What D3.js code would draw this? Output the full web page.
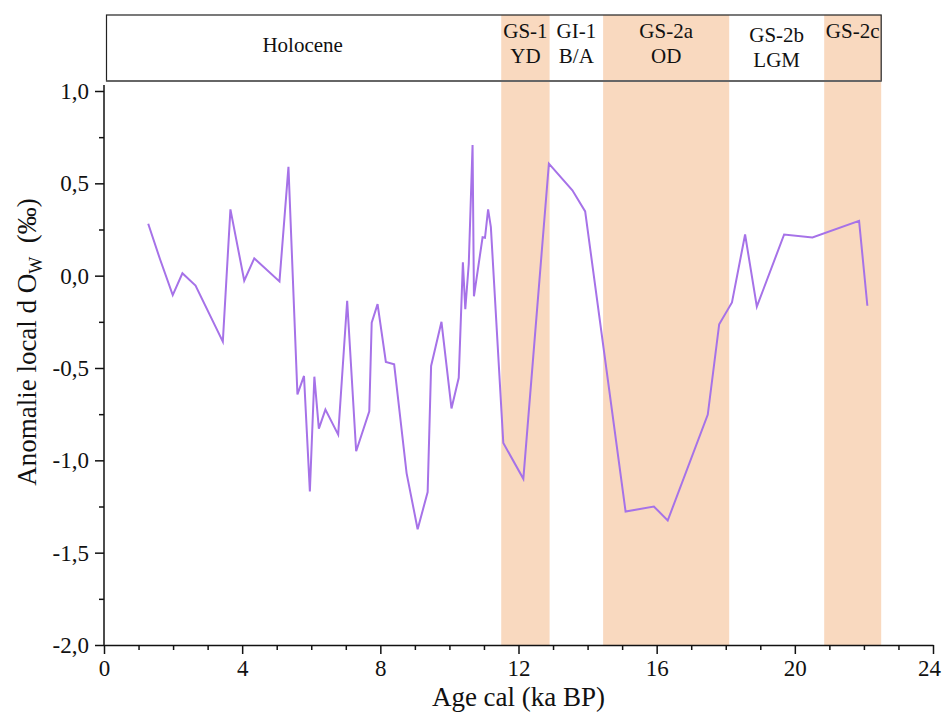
<!DOCTYPE html>
<html>
<head>
<meta charset="utf-8">
<script src="https://cdn.jsdelivr.net/npm/d3@7"></script>
<style>
  html, body { margin: 0; padding: 0; background: #fff; }
  svg { display: block; }
  svg text { font-family: "Liberation Serif", "Times New Roman", Times, serif; }
</style>
</head>
<body>
<svg id="chart" width="943" height="725"></svg>
<script>
// ---- Data ----
const ages = [1.28, 1.62, 1.99, 2.27, 2.65, 3.44, 3.66, 4.06, 4.35, 5.08,
  5.34, 5.60, 5.79, 5.96, 6.09, 6.22, 6.41, 6.78, 7.04, 7.30,
  7.68, 7.75, 7.92, 8.16, 8.40, 8.76, 9.08, 9.37, 9.47, 9.77,
  10.06, 10.27, 10.39, 10.46, 10.56, 10.67, 10.71, 10.96, 11.03, 11.12,
  11.20, 11.56, 12.14, 12.88, 13.56, 13.93, 15.10, 15.92, 16.32, 17.48,
  17.81, 18.18, 18.56, 18.90, 19.69, 20.51, 21.86, 22.10];
const anomalies = [0.281, 0.09, -0.105, 0.013, -0.054, -0.357, 0.359, -0.027, 0.094, -0.031,
  0.589, -0.643, -0.543, -1.168, -0.547, -0.828, -0.725, -0.861, -0.136, -0.951,
  -0.734, -0.254, -0.154, -0.467, -0.48, -1.069, -1.373, -1.172, -0.489, -0.25,
  -0.719, -0.553, 0.072, -0.181, 0.063, 0.707, -0.112, 0.208, 0.205, 0.359,
  0.263, -0.906, -1.10, 0.607, 0.462, 0.348, -1.277, -1.25, -1.326, -0.752,
  -0.263, -0.145, 0.223, -0.168, 0.223, 0.207, 0.297, -0.163];

const periodNames  = ["Holocene", "GS-1", "GI-1", "GS-2a", "GS-2b", "GS-2c"];
const periodSub    = ["", "YD", "B/A", "OD", "LGM", ""];
const periodStart  = [0, 11.5, 12.9, 14.45, 18.1, 20.85];
const periodEnd    = [11.5, 12.9, 14.45, 18.1, 20.85, 22.5];
const periodShaded = [false, true, false, true, false, true];

const xTicks = [0, 4, 8, 12, 16, 20, 24];
const yTicks = [-2.0, -1.5, -1.0, -0.5, 0.0, 0.5, 1.0];

const xTitle = "Age cal (ka BP)";

// ---- Layout ----
const svg = d3.select("#chart");
const mLeft = 104, mRight = 933, mTop = 91, mBottom = 645;
const boxTop = 15, boxBottom = 81;
const FONT = "'Liberation Serif', 'Times New Roman', Times, serif";

const x = d3.scaleLinear().domain([0, 24]).range([mLeft, mRight]);
const y = d3.scaleLinear().domain([-2, 1]).range([mBottom, mTop]);

const fmt = v => d3.format(".1f")(v).replace(".", ",").replace("\u2212", "-");

const periods = periodNames.map((n, i) => ({
  name: n, sub: periodSub[i], start: periodStart[i], end: periodEnd[i], shaded: periodShaded[i]
}));

// shaded bands
svg.append("g").selectAll("rect")
  .data(periods.filter(p => p.shaded))
  .join("rect")
  .attr("x", d => x(d.start))
  .attr("width", d => x(d.end) - x(d.start))
  .attr("y", boxTop)
  .attr("height", mBottom - boxTop)
  .attr("fill", "#f9d9bf");

// header box
svg.append("rect")
  .attr("x", x(0) + 2.5).attr("y", boxTop)
  .attr("width", x(22.5) - x(0) - 2.5).attr("height", boxBottom - boxTop)
  .attr("fill", "none").attr("stroke", "#222").attr("stroke-width", 1.2);
svg.append("line")
  .attr("x1", x(0) + 2.5).attr("x2", x(22.5))
  .attr("y1", boxBottom).attr("y2", boxBottom)
  .attr("stroke", "#666").attr("stroke-width", 2);

// header labels
const hdr = svg.append("g").attr("font-size", 21).attr("font-family", FONT)
  .attr("fill", "#111").attr("text-anchor", "middle");
periods.forEach(p => {
  const cx = x((p.start + p.end) / 2);
  const dy = p.name === "GS-2b" ? 4 : 0;
  if (p.name === "Holocene") {
    hdr.append("text").attr("x", cx).attr("y", 52).text(p.name);
  } else {
    hdr.append("text").attr("x", cx).attr("y", 38 + dy).text(p.name);
    if (p.sub) hdr.append("text").attr("x", cx).attr("y", 63 + dy).text(p.sub);
  }
});

// line
const line = d3.line().x((d, i) => x(ages[i])).y(d => y(d));
svg.append("path")
  .datum(anomalies)
  .attr("d", line)
  .attr("fill", "none")
  .attr("stroke", "#a672e8")
  .attr("stroke-width", 2)
  .attr("stroke-linejoin", "miter");

// x axis
const xMinor = d3.range(0, 25, 1).filter(v => v % 4 !== 0);
const gx = svg.append("g").attr("transform", `translate(0,${mBottom})`);
gx.call(d3.axisBottom(x).tickValues(xTicks).tickSize(9).tickSizeOuter(0).tickPadding(6).tickFormat(d3.format("d")));
gx.append("g").call(d3.axisBottom(x).tickValues(xMinor).tickSize(5).tickFormat(""))
  .select(".domain").remove();
gx.attr("font-family", FONT);
gx.selectAll("path.domain").attr("stroke-width", 1.5).attr("stroke", "#111");
gx.selectAll("line").attr("stroke-width", 1.5).attr("stroke", "#111");
gx.selectAll("text").attr("font-size", 23).attr("font-family", FONT).attr("fill", "#111");
gx.selectAll(".tick text").filter(d => d === 24).attr("dx", -4);

// y axis
const yMinor = d3.range(-1.75, 1.0, 0.5);
const gy = svg.append("g").attr("transform", `translate(${mLeft},0)`);
gy.call(d3.axisLeft(y).tickValues(yTicks).tickSize(9).tickSizeOuter(0).tickPadding(6).tickFormat(fmt));
gy.append("g").call(d3.axisLeft(y).tickValues(yMinor).tickSize(5).tickFormat(""))
  .select(".domain").remove();
gy.attr("font-family", FONT);
gy.select("path.domain").attr("d", `M0,${mBottom}V${mTop - 6}`);
gy.selectAll("path.domain").attr("stroke-width", 1.5).attr("stroke", "#111");
gy.selectAll("line").attr("stroke-width", 1.5).attr("stroke", "#111");
gy.selectAll("text").attr("font-size", 23).attr("font-family", FONT).attr("fill", "#111");

// axis titles
svg.append("text")
  .attr("x", x(12)).attr("y", 706)
  .attr("text-anchor", "middle").attr("font-size", 27).attr("font-family", FONT).attr("fill", "#111")
  .text(xTitle);

const yt = svg.append("text")
  .attr("transform", "translate(36,342) rotate(-90)")
  .attr("text-anchor", "middle").attr("font-size", 27).attr("font-family", FONT).attr("fill", "#111");
yt.append("tspan").text("Anomalie local d O");
yt.append("tspan").attr("font-size", 18).attr("dy", 6).text("W");
yt.append("tspan").attr("dy", -6).text("\u00a0\u00a0(\u2030)");
</script>
</body>
</html>
